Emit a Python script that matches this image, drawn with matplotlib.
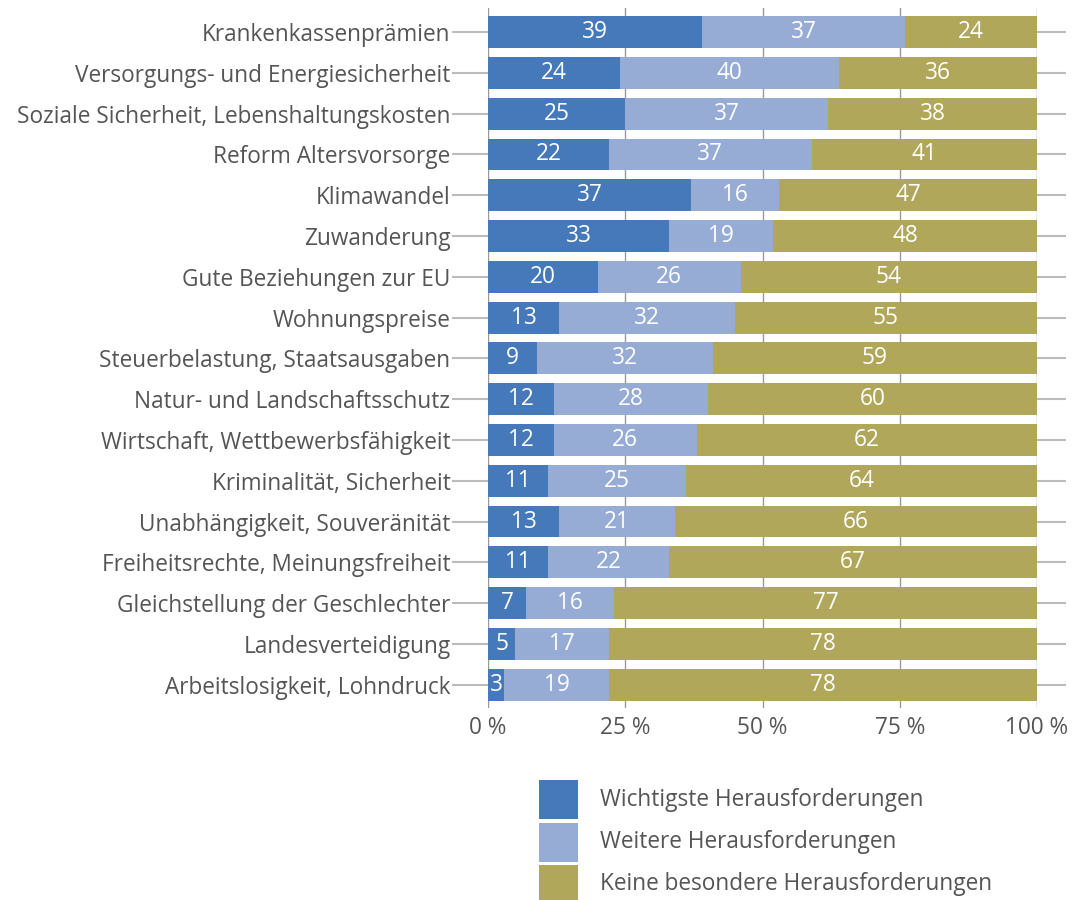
import matplotlib
matplotlib.use("Agg")
import matplotlib.pyplot as plt
from matplotlib.patches import Rectangle
import matplotlib.transforms as mtransforms

categories = [
    "Krankenkassenprämien",
    "Versorgungs- und Energiesicherheit",
    "Soziale Sicherheit, Lebenshaltungskosten",
    "Reform Altersvorsorge",
    "Klimawandel",
    "Zuwanderung",
    "Gute Beziehungen zur EU",
    "Wohnungspreise",
    "Steuerbelastung, Staatsausgaben",
    "Natur- und Landschaftsschutz",
    "Wirtschaft, Wettbewerbsfähigkeit",
    "Kriminalität, Sicherheit",
    "Unabhängigkeit, Souveränität",
    "Freiheitsrechte, Meinungsfreiheit",
    "Gleichstellung der Geschlechter",
    "Landesverteidigung",
    "Arbeitslosigkeit, Lohndruck",
]
wichtigste = [39, 24, 25, 22, 37, 33, 20, 13, 9, 12, 12, 11, 13, 11, 7, 5, 3]
weitere = [37, 40, 37, 37, 16, 19, 26, 32, 32, 28, 26, 25, 21, 22, 16, 17, 19]
keine = [24, 36, 38, 41, 47, 48, 54, 55, 59, 60, 62, 64, 66, 67, 77, 78, 78]
series_names = ["Wichtigste Herausforderungen", "Weitere Herausforderungen",
                "Keine besondere Herausforderungen"]
colors = ["#4679BA", "#97ACD4", "#B0A75A"]
xticks = [0, 25, 50, 75, 100]
xticklabels = ["0 %", "25 %", "50 %", "75 %", "100 %"]

plt.rcParams['font.family'] = ['Open Sans', 'DejaVu Sans']
text_color = "#555555"
fs = 16.3

W, H = 1072, 900
fig = plt.figure(figsize=(W / 100, H / 100), dpi=100)
ax = fig.add_axes([488 / W, 1 - 708 / H, 549 / W, 700 / H])

n = len(categories)
ypos = list(range(n))
left = [0] * n
for vals, col in zip([wichtigste, weitere, keine], colors):
    ax.barh(ypos, vals, left=left, height=0.78, color=col, zorder=2)
    for y, v, l in zip(ypos, vals, left):
        ax.text(l + v / 2, y, str(v), ha="center", va="center",
                color="white", fontsize=fs, zorder=3)
    left = [a + b for a, b in zip(left, vals)]

ax.set_xlim(0, 100)
ax.set_ylim(n - 1 + 0.57, -0.59)

for xt in xticks:
    ax.axvline(xt, color="#999999", lw=1.0, zorder=1)

trans = mtransforms.blended_transform_factory(ax.transAxes, ax.transData)
for y in ypos:
    ax.plot([-0.066, 1.052], [y, y], transform=trans, color="#BBBBBB",
            lw=1.5, zorder=0, clip_on=False, solid_capstyle="butt")

for s in ax.spines.values():
    s.set_visible(False)

ax.set_yticks(ypos)
ax.set_yticklabels(categories, fontsize=fs, color=text_color)
ax.tick_params(axis="y", length=0, pad=27)
ax.set_xticks(xticks)
ax.set_xticklabels(xticklabels, fontsize=fs, color=text_color)
ax.tick_params(axis="x", length=0, pad=6)

# legend drawn as figure-level patches and text
box_x, box_w, box_h, step, top = 539, 39, 39, 42.5, 780
for i, (name, col) in enumerate(zip(series_names, colors)):
    y0 = top + i * step
    fig.add_artist(Rectangle((box_x / W, 1 - (y0 + box_h) / H), box_w / W, box_h / H,
                             transform=fig.transFigure, facecolor=col,
                             edgecolor="none"))
    fig.text(600 / W, 1 - (y0 + box_h / 2) / H, name, ha="left", va="center",
             fontsize=fs, color=text_color)

fig.savefig("out.png", dpi=100)
